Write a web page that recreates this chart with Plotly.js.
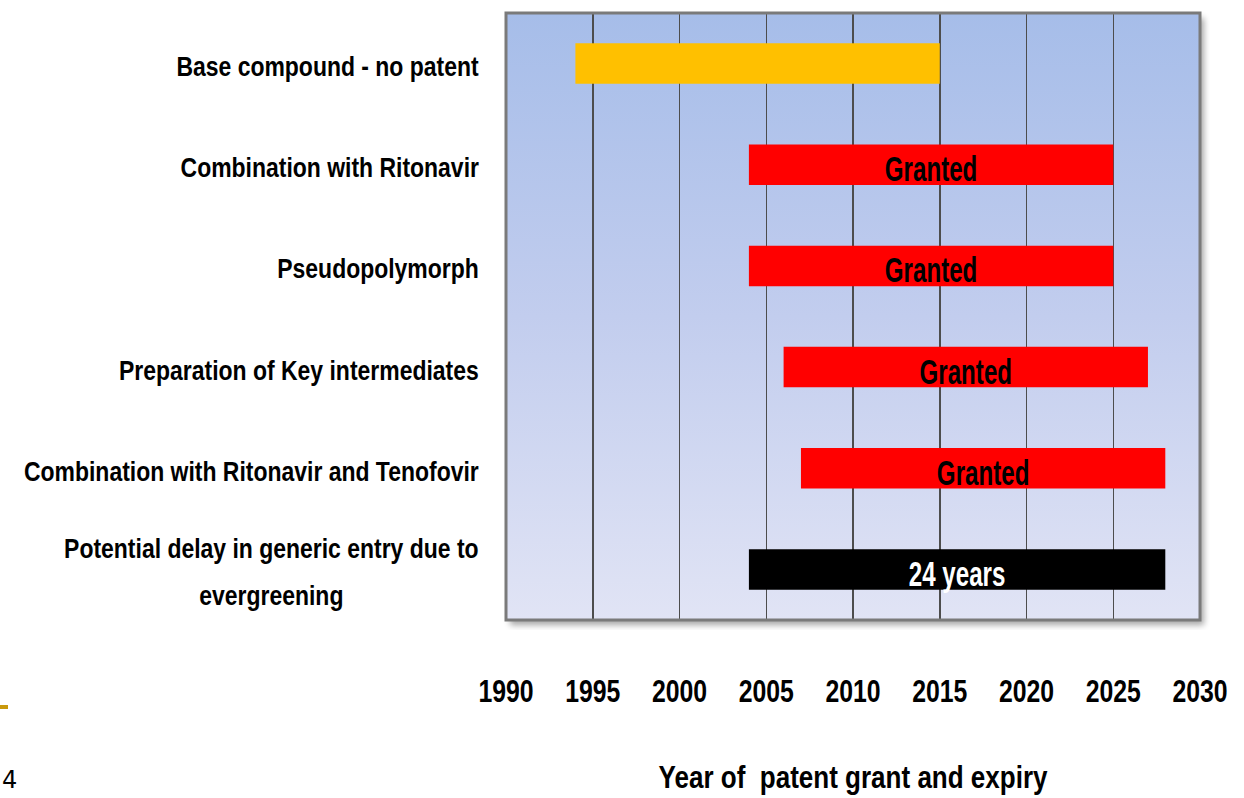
<!DOCTYPE html>
<html>
<head>
<meta charset="utf-8">
<script src="https://cdn.plot.ly/plotly-3.0.1.min.js"></script>
<style>html,body{margin:0;padding:0;background:#fff;}#chart{width:1244px;height:798px;}</style>
</head>
<body>
<div id="chart"></div>
<script>
// ---- data ----
const categories = [
  "Base compound - no patent",
  "Combination with Ritonavir",
  "Pseudopolymorph",
  "Preparation of Key intermediates",
  "Combination with Ritonavir and Tenofovir",
  "Potential delay in generic entry due to<br>evergreening"
];
const startYear = [1994, 2004, 2004, 2006, 2007, 2004];
const endYear   = [2015, 2025, 2025, 2027, 2028, 2028];
const barLabels = ["", "Granted", "Granted", "Granted", "Granted", "24 years"];
const barColors = ["#ffc000", "#ff0000", "#ff0000", "#ff0000", "#ff0000", "#000000"];
const labelColors = ["#000000", "#000000", "#000000", "#000000", "#000000", "#ffffff"];
const tickYears = [1990, 1995, 2000, 2005, 2010, 2015, 2020, 2025, 2030];

// ---- layout geometry ----
const W = 1244, H = 798;
const M = {l: 506, r: 44, t: 13, b: 178};
const PW = W - M.l - M.r, PH = H - M.t - M.b;
const px2x = p => p / PW;
const px2y = p => p / PH;
const FONT = "Liberation Sans, Arial, sans-serif";

const trace = {
  type: "bar",
  orientation: "h",
  y: categories,
  base: startYear,
  x: endYear.map((e, i) => e - startYear[i]),
  width: 0.4,
  marker: {color: barColors, line: {width: 0}},
  text: barLabels,
  textposition: "inside",
  insidetextanchor: "middle",
  textangle: 0,
  constraintext: "none",
  textfont: {family: FONT, size: 35, color: labelColors, weight: "bold"},
  hoverinfo: "skip",
  showlegend: false
};

// background gradient + shadow as an SVG image
const SH = 10;
const svg = `<svg xmlns="http://www.w3.org/2000/svg" width="${PW+2*SH}" height="${PH+2*SH}" viewBox="0 0 ${PW+2*SH} ${PH+2*SH}" preserveAspectRatio="none">
<defs>
<linearGradient id="g" x1="0" y1="0" x2="0" y2="1">
<stop offset="0" stop-color="#a6bde9"/>
<stop offset="0.5" stop-color="#c2cdee"/>
<stop offset="1" stop-color="#e1e4f5"/>
</linearGradient>
<filter id="b" x="-10%" y="-10%" width="120%" height="120%"><feGaussianBlur stdDeviation="3"/></filter>
</defs>
<rect x="${SH+4}" y="${SH+5}" width="${PW}" height="${PH}" fill="#000" opacity="0.35" filter="url(#b)"/>
<rect x="${SH}" y="${SH}" width="${PW}" height="${PH}" fill="url(#g)"/>
</svg>`;
const svgUri = "data:image/svg+xml;charset=utf-8," + encodeURIComponent(svg);

const annotations = categories.map(c => ({
  xref: "paper", yref: "y",
  x: -px2x(25), y: c,
  xanchor: "right", yanchor: "middle",
  align: "center",
  showarrow: false,
  yshift: -3,
  text: c.split("<br>").map(s => `<span style="font-size:28px">${s}</span>`).join("<br>"),
  font: {family: FONT, size: 36, color: "#000", weight: "bold"}
}));
annotations.push({
  xref: "paper", yref: "paper",
  x: -px2x(M.l), y: -px2y(160),
  xanchor: "left", yanchor: "middle",
  showarrow: false, text: "4",
  font: {family: "DejaVu Sans, sans-serif", size: 24, color: "#000"}
});

const layout = {
  width: W, height: H,
  margin: M,
  paper_bgcolor: "#ffffff",
  plot_bgcolor: "rgba(0,0,0,0)",
  font: {family: FONT, color: "#000"},
  bargap: 0.6,
  xaxis: {
    range: [1990, 2030],
    tickvals: tickYears,
    ticktext: tickYears.map(String),
    showgrid: true, gridcolor: "#4d4d4d", gridwidth: 1.5,
    zeroline: false, showline: false, ticks: "",
    ticklabelstandoff: 50,
    tickfont: {family: FONT, size: 31, color: "#000", weight: "bold"},
    title: {text: "Year of  patent grant and expiry", standoff: 58,
            font: {family: FONT, size: 31, color: "#000", weight: "bold"}},
    automargin: false, fixedrange: true
  },
  yaxis: {
    type: "category",
    autorange: "reversed",
    showticklabels: false, showgrid: false, zeroline: false, ticks: "",
    automargin: false, fixedrange: true
  },
  images: [{
    source: svgUri, xref: "paper", yref: "paper",
    x: -px2x(SH), y: 1 + px2y(SH),
    sizex: (PW + 2*SH) / PW, sizey: (PH + 2*SH) / PH,
    xanchor: "left", yanchor: "top", sizing: "stretch", layer: "below"
  }],
  shapes: [
    {type: "rect", xref: "paper", yref: "paper", x0: 0, x1: 1, y0: 0, y1: 1,
     line: {color: "#7a7a7a", width: 3}, fillcolor: "rgba(0,0,0,0)", layer: "above"},
    {type: "line", xref: "paper", yref: "paper", x0: -px2x(M.l), x1: -px2x(M.l - 8),
     y0: -px2y(87), y1: -px2y(87), line: {color: "#c9990c", width: 4}}
  ],
  annotations: annotations
};

// horizontally condense a text element (the reference uses a narrow face)
function squeeze(el, s, anchor, dy) {
  const root = el.ownerSVGElement;
  const r = el.getBoundingClientRect();
  if (!r.width) return;
  const sx = anchor === "right" ? r.right : (r.left + r.right) / 2;
  const pt = root.createSVGPoint(); pt.x = sx; pt.y = r.top;
  const p = pt.matrixTransform(el.parentNode.getScreenCTM().inverse());
  const old = el.getAttribute("transform") || "";
  el.setAttribute("transform", `translate(${p.x},${dy || 0}) scale(${s},1) translate(${-p.x},0) ${old}`);
}

const gd = document.getElementById("chart");
Plotly.newPlot(gd, [trace], layout, {staticPlot: true, displayModeBar: false}).then(() => {
  gd.querySelectorAll("g.annotation").forEach(g => {
    const idx = +g.getAttribute("data-index");
    if (idx < categories.length) {
      const t = g.querySelector("text.annotation-text");
      if (t) squeeze(t, 0.82, "right");
    }
  });
  gd.querySelectorAll(".xtick text").forEach(t => squeeze(t, 0.8, "center"));
  gd.querySelectorAll("text.bartext").forEach(t => squeeze(t, 0.69, "center", 4));
  gd.querySelectorAll("text.xtitle").forEach(t => squeeze(t, 0.84, "center"));
});
</script>
</body>
</html>
